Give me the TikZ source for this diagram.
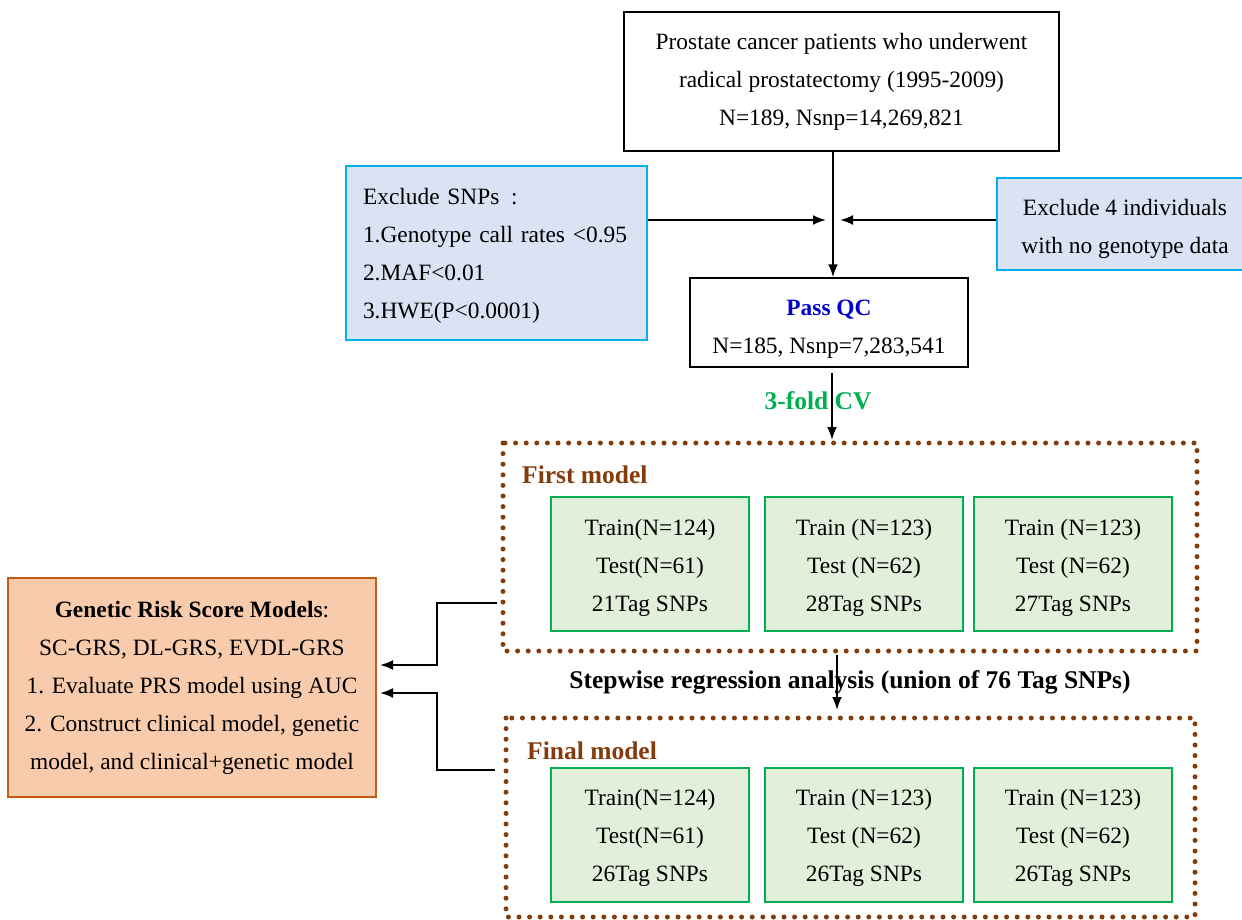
\documentclass[tikz,border=0pt]{standalone}
\usepackage{fontspec}
\setmainfont{Liberation Serif}
\usetikzlibrary{arrows.meta,calc}
\definecolor{brn}{RGB}{132,60,12}
\definecolor{gbord}{RGB}{0,176,80}
\definecolor{gfill}{RGB}{226,239,218}
\definecolor{bfill}{RGB}{218,227,243}
\definecolor{bbord}{RGB}{0,176,240}
\definecolor{ofill}{RGB}{248,203,173}
\definecolor{obord}{RGB}{197,90,17}
\definecolor{qcblue}{RGB}{0,0,204}
\begin{document}
\begin{tikzpicture}[x=1pt,y=-1pt,
  txt/.style={font=\fontsize{23.4}{38}\selectfont,inner sep=0pt},
  plainbox/.style={draw=black,line width=1.5pt,fill=white,inner sep=0pt},
  bluebox/.style={draw=bbord,line width=2pt,fill=bfill,inner sep=0pt},
  greenbox/.style={draw=gbord,line width=2pt,fill=gfill,inner sep=0pt,minimum width=198pt,minimum height=134pt},
  orangebox/.style={draw=obord,line width=2pt,fill=ofill,inner sep=0pt},
  dotbox/.style={draw=brn,line width=5pt,line cap=round,dash pattern=on 0pt off 10.6pt},
  arr/.style={line width=2pt,-{Latex[length=13pt,width=10pt]}},
  bigbold/.style={font=\fontsize{25.5}{30}\selectfont\bfseries,inner sep=0pt},
  title/.style={bigbold,text=brn,anchor=west}
]
\useasboundingbox (0,0) rectangle (1242,919);
% top box
\node[plainbox,minimum width=435pt,minimum height=139pt] (top) at (841.5,81.5) {};
\node[txt,align=center] (topt) at ($(top.center)+(0,0)$)
  {Prostate cancer patients who underwent\\radical prostatectomy (1995-2009)\\N=189, Nsnp=14,269,821};
% exclusion boxes
\node[bluebox,minimum width=301pt,minimum height=174pt] (exsnp) at (496.5,253) {};
\node[txt,text width=267pt,align=left] (exsnpt) at ($(exsnp.center)+(0,3)$)
  {Exclude SNPs\ \,:\\1.Genotype call rates <0.95\\2.MAF<0.01\\3.HWE(P<0.0001)};
\node[bluebox,minimum width=256pt,minimum height=92pt] (exind) at (1125,224) {};
\node[txt,align=center] (exindt) at ($(exind.center)+(0,5)$)
  {Exclude 4 individuals\\with no genotype data};
% pass QC
\node[plainbox,minimum width=278pt,minimum height=89pt] (qc) at (829,322.5) {};
\node[txt,align=center] (qct) at ($(qc.center)+(0,7)$)
  {\textcolor{qcblue}{\textbf{Pass QC}}\\N=185, Nsnp=7,283,541};
% spine coordinates
\coordinate (m) at (833,220);
\coordinate (m2) at (832,400);
\coordinate (m3) at (837,682);
\draw[arr] (top.south -| m) -- (qc.north -| m);
\draw[arr] (exsnp.east |- m) -- ($(m)+(-7,0)$);
\draw[arr] (exind.west |- m) -- ($(m)+(7,0)$);
% dotted boxes
\draw[dotbox] (503,443) rectangle (1197,651);
\draw[dotbox] (506,718) rectangle (1195,917);
\coordinate (d1) at (503,443);
\coordinate (d1b) at (503,651);
\coordinate (d2) at (506,718);
% CV arrow
\node[bigbold,text=gbord] (cv) at (818,401) {3-fold CV};
\draw[arr] ($(qc.south -| m2)+(0,5)$) -- ($(d1 -| m2)+(0,-3)$);
% titles
\node[title] (fm) at (522,475) {First model};
\node[title] (finm) at (527,751) {Final model};
% green boxes first
\foreach \n/\x/\y in {g1/650/564,g2/864/564,g3/1073/564,h1/650/834.5,h2/864/834.5,h3/1073/834.5}
  \node[greenbox] (\n) at (\x,\y) {};
\node[txt,align=center] (g1t) at ($(g1.center)+(0,3.5)$) {Train(N=124)\\Test(N=61)\\21Tag SNPs};
\node[txt,align=center] (g2t) at ($(g2.center)+(0,3.5)$) {Train (N=123)\\Test (N=62)\\28Tag SNPs};
\node[txt,align=center] (g3t) at ($(g3.center)+(0,3.5)$) {Train (N=123)\\Test (N=62)\\27Tag SNPs};
\node[txt,align=center] (h1t) at ($(h1.center)+(0,3.5)$) {Train(N=124)\\Test(N=61)\\26Tag SNPs};
\node[txt,align=center] (h2t) at ($(h2.center)+(0,3.5)$) {Train (N=123)\\Test (N=62)\\26Tag SNPs};
\node[txt,align=center] (h3t) at ($(h3.center)+(0,3.5)$) {Train (N=123)\\Test (N=62)\\26Tag SNPs};
% stepwise
\draw[arr] ($(d1b -| m3)+(0,4)$) -- ($(d2 -| m3)+(0,-8)$);
\node[bigbold] (sw) at (850,682) {Stepwise regression analysis (union of 76 Tag SNPs)};
% orange box
\node[orangebox,minimum width=368pt,minimum height=219pt] (grs) at (192,687.5) {};
\node[txt,align=center] (grst) at ($(grs.center)+(0,0)$)
  {\textbf{Genetic Risk Score Models}:\\SC-GRS, DL-GRS, EVDL-GRS\\1. Evaluate PRS model using AUC\\2. Construct clinical model, genetic\\model, and clinical+genetic model};
% feedback arrows
\coordinate (a1) at (497,603);
\coordinate (a2) at (495,770);
\draw[arr] (a1) -- (437,603) -- (437,665) -- (380,665);
\draw[arr] (a2) -- (437,770) -- (437,693) -- (380,693);
\end{tikzpicture}
\end{document}
